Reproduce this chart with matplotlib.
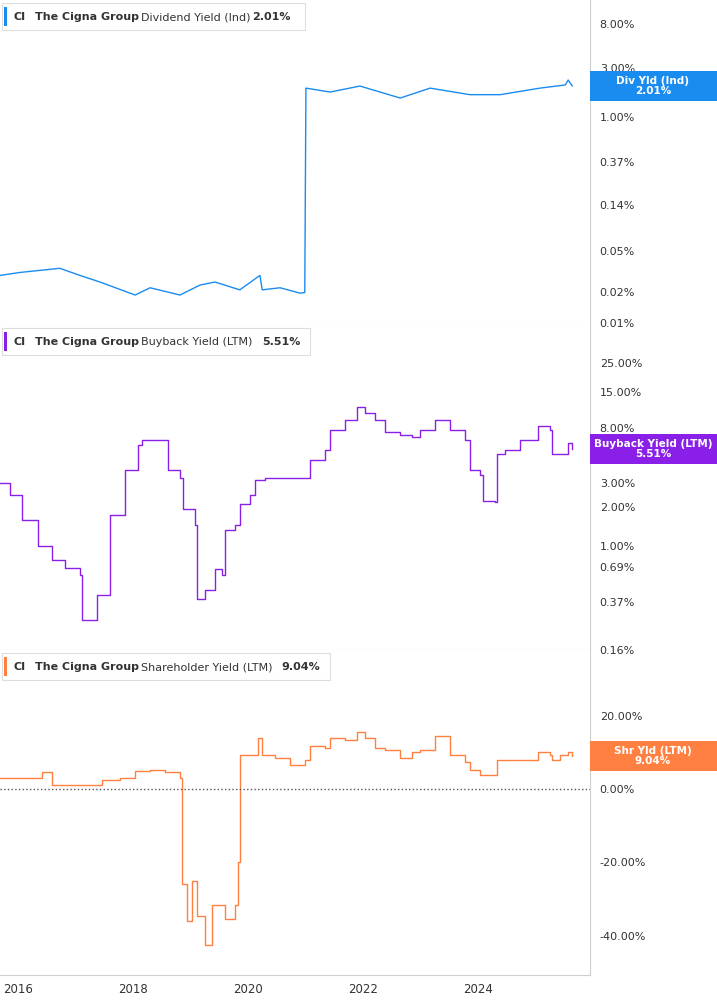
"""Cigna Group dividend, buyback and shareholder yield panels."""

import matplotlib.pyplot as plt
from matplotlib.patches import Rectangle

# time in fractional years, values in percent
div_years = [2015.69, 2016.04, 2016.73, 2017.08, 2017.43, 2018.04, 2018.30, 2018.82,
             2019.17, 2019.43, 2019.86, 2020.21, 2020.25, 2020.56, 2020.91, 2020.99,
             2021.01, 2021.43, 2021.95, 2022.65, 2023.17, 2023.86, 2024.39, 2025.08,
             2025.52, 2025.57, 2025.64]
div_values = [0.029, 0.031, 0.034, 0.029, 0.025, 0.0187, 0.022, 0.0187,
              0.0234, 0.025, 0.021, 0.029, 0.021, 0.022, 0.0195, 0.0198,
              1.91, 1.75, 2.0, 1.53, 1.91, 1.65, 1.65, 1.91,
              2.05, 2.29, 2.01]

bb_years = [2015.69, 2015.86, 2016.07, 2016.35, 2016.59, 2016.82, 2017.08, 2017.12,
            2017.34, 2017.38, 2017.60, 2017.60, 2017.81, 2017.86, 2018.09, 2018.16,
            2018.56, 2018.61, 2018.82, 2018.87, 2019.08, 2019.12, 2019.26, 2019.43,
            2019.55, 2019.60, 2019.78, 2019.86, 2020.04, 2020.12, 2020.30, 2020.47,
            2020.73, 2020.99, 2021.08, 2021.34, 2021.43, 2021.69, 2021.90, 2022.04,
            2022.21, 2022.39, 2022.65, 2022.86, 2022.99, 2023.26, 2023.52, 2023.78,
            2023.86, 2024.04, 2024.09, 2024.30, 2024.33, 2024.47, 2024.73, 2024.99,
            2025.05, 2025.26, 2025.29, 2025.43, 2025.57, 2025.64]
bb_values = [3.0, 2.45, 1.58, 1.0, 0.78, 0.68, 0.6, 0.27,
             0.27, 0.42, 0.42, 1.73, 1.73, 3.8, 5.9, 6.5,
             6.5, 3.8, 3.3, 1.9, 1.45, 0.39, 0.46, 0.66,
             0.6, 1.33, 1.45, 2.1, 2.45, 3.2, 3.3, 3.3,
             3.3, 3.3, 4.5, 5.4, 7.7, 9.2, 11.5, 10.4,
             9.2, 7.4, 7.0, 6.8, 7.7, 9.2, 7.7, 6.5,
             3.8, 3.5, 2.2, 2.15, 5.0, 5.4, 6.5, 6.5,
             8.2, 7.7, 5.0, 5.0, 6.1, 5.51]

sh_years = [2015.69, 2016.39, 2016.42, 2016.56, 2016.59, 2017.43, 2017.47, 2017.78,
            2018.04, 2018.30, 2018.56, 2018.82, 2018.86, 2018.94, 2019.03, 2019.12,
            2019.26, 2019.38, 2019.60, 2019.77, 2019.83, 2019.86, 2020.18, 2020.25,
            2020.47, 2020.73, 2020.99, 2021.08, 2021.34, 2021.43, 2021.69, 2021.90,
            2022.04, 2022.21, 2022.39, 2022.65, 2022.86, 2022.99, 2023.26, 2023.52,
            2023.78, 2023.86, 2024.04, 2024.09, 2024.30, 2024.33, 2024.47, 2024.73,
            2024.99, 2025.05, 2025.26, 2025.29, 2025.43, 2025.57, 2025.64]
sh_values = [3.0, 3.0, 4.6, 4.6, 1.0, 1.0, 2.5, 3.0,
             5.0, 5.2, 4.6, 3.0, -26.0, -36.0, -25.0, -34.5,
             -42.5, -31.5, -35.5, -31.5, -20.0, 9.3, 13.9, 9.3,
             8.4, 6.5, 7.9, 11.8, 11.2, 13.9, 13.4, 15.5,
             13.9, 11.2, 10.6, 8.4, 10.1, 10.6, 14.4, 9.3,
             7.4, 5.2, 3.8, 3.8, 3.8, 7.9, 7.9, 7.9,
             7.9, 10.1, 9.3, 7.9, 9.3, 10.1, 9.04]

div_ticks = [8.0, 3.0, 1.0, 0.37, 0.14, 0.05, 0.02, 0.01]
bb_ticks = [25.0, 15.0, 8.0, 3.0, 2.0, 1.0, 0.69, 0.37, 0.16]
sh_ticks = [20.0, 0.0, -20.0, -40.0]
year_ticks = [2016, 2018, 2020, 2022, 2024]

BLUE = "#1a8cf0"
PURPLE = "#8a1fe8"
ORANGE = "#ff8040"
GRID = "#cfcfcf"
TEXT = "#333333"


def style_panel(axis, ticks):
    axis.set_xlim(2015.69, 2025.95)
    axis.yaxis.tick_right()
    axis.set_yticks(ticks)
    axis.set_yticklabels([f"{t:.2f}%" for t in ticks])
    axis.minorticks_off()
    axis.tick_params(axis="y", length=0, pad=7, labelsize=8, labelcolor=TEXT)
    axis.tick_params(axis="x", length=0, labelbottom=False)
    for side in ["left", "top"]:
        axis.spines[side].set_visible(False)
    axis.spines["right"].set_color(GRID)
    axis.spines["bottom"].set_color(GRID)


def add_header(figure, y_top, color, name, value, value_x, width):
    figure.patches.append(Rectangle((2 / 717, 1 - (y_top + 27) / 1005), width / 717, 27 / 1005,
                                    transform=figure.transFigure, facecolor="white",
                                    edgecolor="#dddddd", linewidth=0.8))
    figure.patches.append(Rectangle((4 / 717, 1 - (y_top + 23) / 1005), 3 / 717, 19 / 1005,
                                    transform=figure.transFigure, facecolor=color))
    y = 1 - (y_top + 14) / 1005
    figure.text(14 / 717, y, "CI", fontsize=8, fontweight="bold", va="center", color=TEXT)
    figure.text(35 / 717, y, "The Cigna Group", fontsize=8, fontweight="bold", va="center",
                color=TEXT)
    figure.text(141 / 717, y, name, fontsize=8, va="center", color=TEXT)
    figure.text(value_x / 717, y, value, fontsize=8, fontweight="bold", va="center",
                color=TEXT)


def add_tag(figure, y_px, color, label, value):
    figure.patches.append(Rectangle((590 / 717, 1 - (y_px + 15) / 1005), 127 / 717, 30 / 1005,
                                    transform=figure.transFigure, facecolor=color, zorder=5))
    figure.text(653 / 717, 1 - y_px / 1005, f"{label}\n{value}", fontsize=7.5, color="white",
                fontweight="bold", ha="center", va="center", linespacing=1.05, zorder=6)


figure = plt.figure(figsize=(7.17, 10.05), dpi=100)
ax1 = figure.add_axes([0, 1 - 325 / 1005, 590 / 717, 325 / 1005])
ax2 = figure.add_axes([0, 1 - 650 / 1005, 590 / 717, 325 / 1005])
ax3 = figure.add_axes([0, 1 - 975 / 1005, 590 / 717, 325 / 1005])

ax1.plot(div_years, div_values, color=BLUE, linewidth=1)
ax1.set_yscale("log")
ax1.set_ylim(0.00957, 13.7)
style_panel(ax1, div_ticks)

ax2.step(bb_years, bb_values, where="post", color=PURPLE, linewidth=1)
ax2.set_yscale("log")
ax2.set_ylim(0.161, 48.8)
style_panel(ax2, bb_ticks)

ax3.step(sh_years, sh_values, where="post", color=ORANGE, linewidth=1)
ax3.axhline(0, color="#555555", linestyle=":", linewidth=1)
ax3.set_ylim(-50.7, 37.9)
style_panel(ax3, sh_ticks)
ax3.set_xticks(year_ticks)
ax3.tick_params(axis="x", labelbottom=True, labelsize=8.5, labelcolor=TEXT, pad=6)

add_header(figure, 3, BLUE, "Dividend Yield (Ind)", "2.01%", 252, 303)
add_header(figure, 328, PURPLE, "Buyback Yield (LTM)", "5.51%", 262, 308)
add_header(figure, 653, ORANGE, "Shareholder Yield (LTM)", "9.04%", 281, 328)

add_tag(figure, 86, BLUE, "Div Yld (Ind)", "2.01%")
add_tag(figure, 449, PURPLE, "Buyback Yield (LTM)", "5.51%")
add_tag(figure, 756, ORANGE, "Shr Yld (LTM)", "9.04%")

figure.savefig("out.png", dpi=100)
